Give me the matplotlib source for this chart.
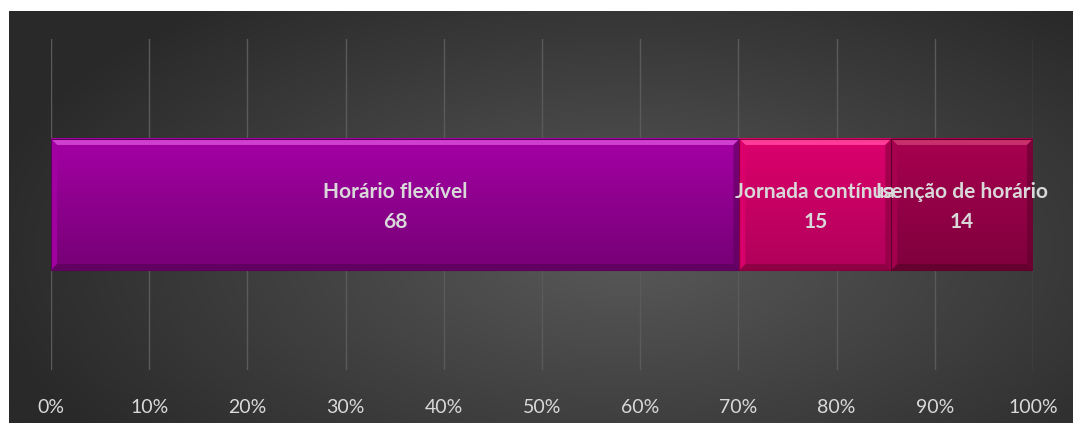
import numpy as np
import matplotlib

matplotlib.use('Agg')
import matplotlib.pyplot as plt
from matplotlib.patches import Polygon

# horário de trabalho: number of answers per regime
categories = ['Horário flexível', 'Jornada contínua', 'Isenção de horário']
counts = [68, 15, 14]
tick_values = [0, 10, 20, 30, 40, 50, 60, 70, 80, 90, 100]

# top / bottom body colour and bevel highlight for each segment
body_top = ['#a400a4', '#dc006c', '#a80050']
body_bottom = ['#760076', '#b0005a', '#7e003c']
bevel_light = ['#d040d0', '#ff3c9a', '#c8306c']
bevel_dark = ['#5c005c', '#86003e', '#60002c']

W, H = 1073, 423
TEXT = '#d9d9d9'
plt.rcParams['font.family'] = ['Lato', 'DejaVu Sans']


def hex_rgb(c):
    c = c.lstrip('#')
    return np.array([int(c[i:i + 2], 16) / 255.0 for i in (0, 2, 4)])


def px_axes(fig, x0, y0, x1, y1):
    # axes placed by pixel box measured from the top-left corner
    return fig.add_axes([x0 / W, 1 - y1 / H, (x1 - x0) / W, (y1 - y0) / H])


fig = plt.figure(figsize=(W / 100, H / 100), dpi=100, facecolor='white')

# dark radial background
bg = px_axes(fig, 9, 11, W, H)
bg.set_axis_off()
yy, xx = np.mgrid[0:1:300j, 0:1:600j]
r = np.sqrt(((xx - 0.58) / 0.62) ** 2 + ((yy - 0.58) / 0.78) ** 2)
r = np.clip(r, 0, 1)
lo, hi = hex_rgb('#292929'), hex_rgb('#595959')
img = hi[None, None, :] * (1 - r[..., None]) + lo[None, None, :] * r[..., None]
bg.imshow(img, extent=[0, 1, 0, 1], aspect='auto', interpolation='bilinear')
bg.set_xlim(0, 1)
bg.set_ylim(0, 1)

ax = px_axes(fig, 51, 39, 1033, 370)
ax.patch.set_alpha(0)
for s in ax.spines.values():
    s.set_visible(False)

total = sum(counts)
shares = [100.0 * c / total for c in counts]
lefts = np.concatenate([[0], np.cumsum(shares)[:-1]])

bar_h = 0.396
y0, y1 = -bar_h / 2, bar_h / 2
bx = 6 * 100.0 / 982   # bevel width in x data units
by = 6 * 1.0 / 331     # bevel width in y data units

for i, (left, share) in enumerate(zip(lefts, shares)):
    right = left + share
    t = np.linspace(0, 1, 64)[:, None]
    grad = hex_rgb(body_top[i])[None, :] * (1 - t) + hex_rgb(body_bottom[i])[None, :] * t
    ax.imshow(grad[:, None, :], extent=[left, right, y0, y1], aspect='auto',
              interpolation='bilinear', zorder=2)
    # bevelled edges
    top = [(left, y1), (right, y1), (right - bx, y1 - by), (left + bx, y1 - by)]
    bot = [(left, y0), (right, y0), (right - bx, y0 + by), (left + bx, y0 + by)]
    lft = [(left, y0), (left, y1), (left + bx, y1 - by), (left + bx, y0 + by)]
    rgt = [(right, y0), (right, y1), (right - bx, y1 - by), (right - bx, y0 + by)]
    ax.add_patch(Polygon(top, closed=True, fc=bevel_light[i], ec='none', zorder=3))
    ax.add_patch(Polygon(bot, closed=True, fc=bevel_dark[i], ec='none', alpha=0.8, zorder=3))
    ax.add_patch(Polygon(lft, closed=True, fc=body_top[i], ec='none', alpha=0.9, zorder=3))
    ax.add_patch(Polygon(rgt, closed=True, fc=bevel_dark[i], ec='none', alpha=0.6, zorder=3))
    ax.plot([left, right, right, left, left], [y0, y0, y1, y1, y0],
            color=bevel_dark[i], lw=0.8, zorder=4)

for i, (left, share) in enumerate(zip(lefts, shares)):
    ax.text(left + share / 2, -0.008, '%s\n%d' % (categories[i], counts[i]),
            ha='center', va='center', color=TEXT, fontsize=15,
            fontweight='bold', linespacing=1.65, zorder=5)

ax.set_xlim(0, 100)
ax.set_ylim(-0.5, 0.5)
ax.set_xticks(tick_values)
ax.set_xticklabels(['%d%%' % v for v in tick_values])
ax.set_yticks([])
ax.tick_params(axis='x', length=0, pad=21, labelsize=14, labelcolor=TEXT)
ax.grid(axis='x', color='#5a5a5a', lw=1, zorder=1)
ax.set_axisbelow(True)

fig.savefig('out.png', dpi=100, facecolor='white')
